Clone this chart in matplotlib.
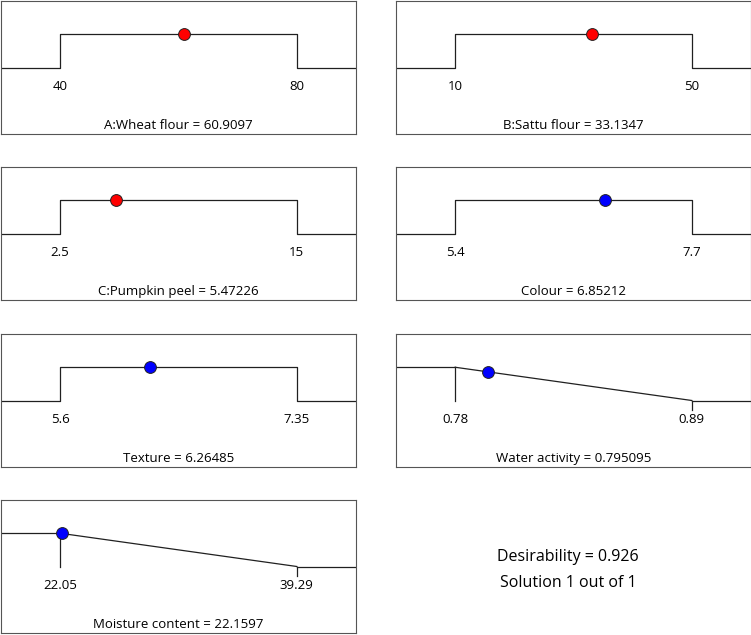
"""Desirability ramps for the optimised solution (factors and responses)."""
import matplotlib.pyplot as plt
import numpy as np

plt.rcParams["font.family"] = ["Open Sans", "DejaVu Sans"]

names = ["A:Wheat flour", "B:Sattu flour", "C:Pumpkin peel", "Colour",
         "Texture", "Water activity", "Moisture content"]
lows = [40, 10, 2.5, 5.4, 5.6, 0.78, 22.05]
highs = [80, 50, 15, 7.7, 7.35, 0.89, 39.29]
low_labels = ["40", "10", "2.5", "5.4", "5.6", "0.78", "22.05"]
high_labels = ["80", "50", "15", "7.7", "7.35", "0.89", "39.29"]
values = [60.9097, 33.1347, 5.47226, 6.85212, 6.26485, 0.795095, 22.1597]
value_labels = ["60.9097", "33.1347", "5.47226", "6.85212", "6.26485", "0.795095", "22.1597"]
goals = ["range", "range", "range", "range", "range", "minimize", "minimize"]
is_factor = [True, True, True, False, False, False, False]
desirability = 0.926

W, H = 751, 635
fig = plt.figure(figsize=(W / 100, H / 100), dpi=100)

# panel boxes in pixels: (left, top, width, height)
col_x = [1, 396]
row_y = [1, 167, 334, 500]
pw, ph = 355, 133

LINE = "#202020"
EDGE = "#555555"
Y_LOW, Y_HIGH = 0.5, 0.75
FS = 9.5

for i, name in enumerate(names):
    r, c = divmod(i, 2)
    left, top = col_x[c], row_y[r]
    ax = fig.add_axes([left / W, 1 - (top + ph) / H, pw / W, ph / H])
    lo, hi = lows[i], highs[i]
    span = hi - lo
    x0, x1 = lo - 0.25 * span, hi + 0.25 * span
    ax.set_xlim(x0, x1)
    ax.set_ylim(0, 1)

    if goals[i] == "range":
        xs = [x0, lo, lo, hi, hi, x1]
        ys = [Y_LOW, Y_LOW, Y_HIGH, Y_HIGH, Y_LOW, Y_LOW]
        ax.plot(xs, ys, color=LINE, lw=0.9)
        y_dot = Y_HIGH
    else:
        ax.plot([x0, lo], [Y_HIGH, Y_HIGH], color=LINE, lw=0.9)
        ax.plot([lo, lo], [Y_HIGH, Y_LOW], color=LINE, lw=0.9)
        ax.plot([lo, hi], [Y_HIGH, Y_LOW], color=LINE, lw=0.9)
        ax.plot([hi, x1], [Y_LOW, Y_LOW], color=LINE, lw=0.9)
        ax.plot([hi, hi], [Y_LOW, 0.43], color=LINE, lw=0.9)
        y_dot = np.interp(values[i], [lo, hi], [Y_HIGH, Y_LOW])

    color = "#ff0000" if is_factor[i] else "#0000ff"
    ax.plot(values[i], y_dot, "o", ms=8.5, color=color, mec="#222222", mew=0.7, zorder=5)

    ax.text(lo, 0.355, low_labels[i], ha="center", va="center", fontsize=FS)
    ax.text(hi, 0.355, high_labels[i], ha="center", va="center", fontsize=FS)
    ax.text(0.5, 0.065, f"{name} = {value_labels[i]}", transform=ax.transAxes,
            ha="center", va="center", fontsize=FS)

    ax.set_xticks([])
    ax.set_yticks([])
    for s in ax.spines.values():
        s.set_color(EDGE)
        s.set_linewidth(0.8)

fig.text(568 / W, 1 - 557 / H, f"Desirability = {desirability:.3f}",
         ha="center", va="center", fontsize=11.5)
fig.text(568 / W, 1 - 583 / H, "Solution 1 out of 1",
         ha="center", va="center", fontsize=11.5)

fig.savefig("out.png", dpi=100, facecolor="white")
